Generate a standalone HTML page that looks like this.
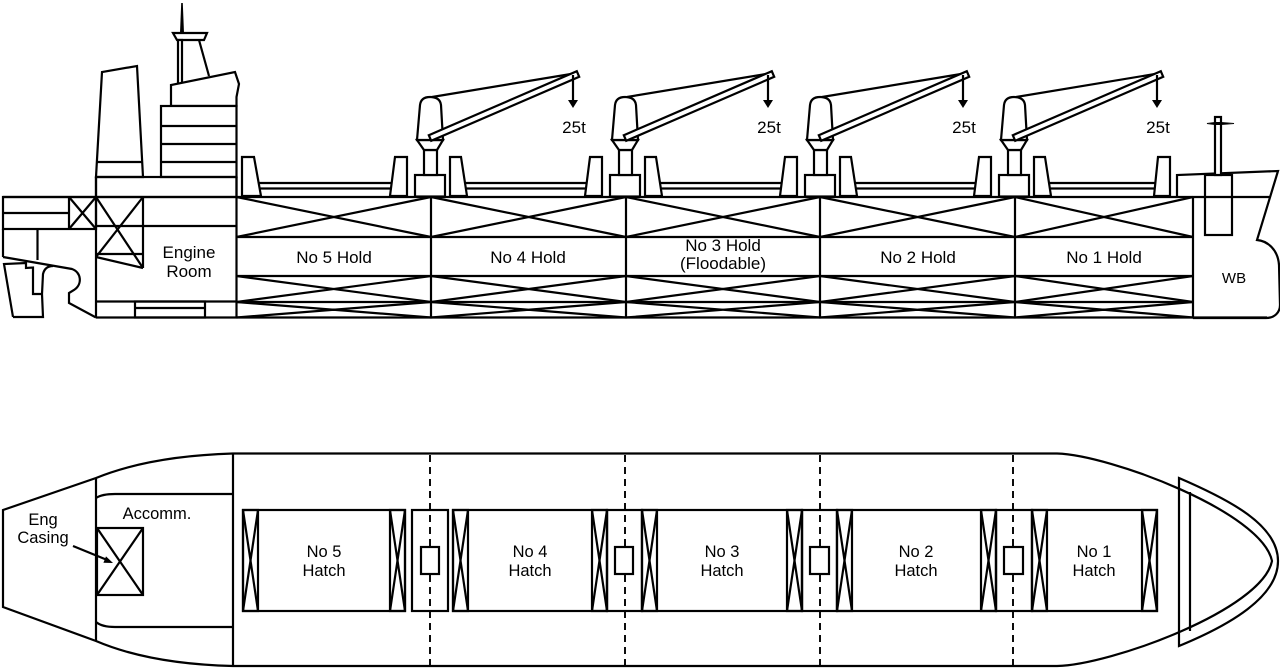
<!DOCTYPE html>
<html><head><meta charset="utf-8"><style>
html,body{margin:0;padding:0;background:#fff;}
svg{display:block;}
text{font-family:"Liberation Sans",Arial,sans-serif;fill:#000;stroke:none;}
</style></head><body>
<svg width="1280" height="668" viewBox="0 0 1280 668" xmlns="http://www.w3.org/2000/svg">
<defs>
<g id="crane">
  <polygon points="395,157 407,157 407,196 390,196" fill="#fff"/>
  <polygon points="450,157 461,157 467,196 450,196" fill="#fff"/>
  <rect x="415" y="175" width="30" height="21.5" fill="#fff"/>
  <rect x="424" y="150" width="13" height="25" fill="#fff"/>
  <polygon points="417,140 443,140 437,150 424,150" fill="#fff"/>
  <path d="M417,140 L420,105 Q421,97 430,97 Q440,97 441,105 L443,140 Z" fill="#fff"/>
  <line x1="432" y1="97" x2="577" y2="73"/>
  <polygon points="428.8,135.2 576.8,71.2 579.2,76.8 431.2,140.8" fill="#fff"/>
  <line x1="573" y1="75" x2="573" y2="101"/>
  <polygon points="568,100 578,100 573,108" fill="#000" stroke="none"/>
  <text x="574" y="133" font-size="17" text-anchor="middle">25t</text>
</g>
<g id="pnl">
  <rect x="0" y="510" width="15" height="101"/>
  <line x1="0" y1="510" x2="15" y2="611"/>
  <line x1="15" y1="510" x2="0" y2="611"/>
</g>
</defs>
<g fill="none" stroke="#000" stroke-width="2.2" stroke-linejoin="miter">
<!-- ============ PROFILE ============ -->
<polygon points="96,177 102,72 137,66 143,177" fill="#fff"/>
<line x1="97" y1="162" x2="142" y2="162"/>
<polygon points="180,33 181.2,3 182.8,3 184,33" fill="#000" stroke="none"/>
<polygon points="173,33 207,33 204,40 177,40" fill="#fff"/>
<rect x="178" y="40" width="4" height="44" fill="#fff"/>
<line x1="199" y1="40" x2="209" y2="76"/>
<polygon points="171,106 171,85 235,72 239,84 236.5,97 236.5,106" fill="#fff"/>
<rect x="161" y="106" width="75.5" height="71" fill="#fff"/>
<line x1="161" y1="126" x2="236.5" y2="126"/>
<line x1="161" y1="144" x2="236.5" y2="144"/>
<line x1="161" y1="162" x2="236.5" y2="162"/>
<rect x="96" y="177" width="140.5" height="20"/>
<line x1="3" y1="197" x2="1270" y2="197"/>
<line x1="96" y1="317.5" x2="1267" y2="317.5"/>
<line x1="96" y1="177" x2="96" y2="317.5"/>
<rect x="3" y="197" width="93" height="32"/>
<line x1="3" y1="213" x2="69" y2="213"/>
<line x1="69" y1="197" x2="69" y2="229"/>
<line x1="69" y1="197" x2="96" y2="229"/>
<line x1="96" y1="197" x2="69" y2="229"/>
<line x1="3" y1="229" x2="3" y2="257"/>
<line x1="37.5" y1="229" x2="37.5" y2="260"/>
<path d="M3,257 L72,269 C81,272 83,284 74,290 L69,293 L69,303 L96,317.5"/>
<path d="M13,317 L4,264 L26,263 L26,268 L33,267.5 L33,294 L42,294"/>
<path d="M13,317 L43,317 L42,294 L43,274 Q45,266 53,266"/>
<line x1="143" y1="197" x2="143" y2="268"/>
<line x1="96" y1="254" x2="143" y2="254"/>
<line x1="96" y1="257" x2="143" y2="268"/>
<line x1="96" y1="197" x2="143" y2="268"/>
<line x1="143" y1="197" x2="96" y2="257"/>
<line x1="96" y1="226" x2="236.5" y2="226"/>
<line x1="96" y1="301.5" x2="236.5" y2="301.5"/>
<rect x="135" y="301.5" width="70" height="16"/>
<line x1="135" y1="308" x2="205" y2="308"/>
<g>
<line x1="236.5" y1="237" x2="1193" y2="237"/>
<line x1="236.5" y1="276" x2="1193" y2="276"/>
<line x1="236.5" y1="302" x2="1193" y2="302"/>
<line x1="236.5" y1="177" x2="236.5" y2="317.5"/>
<line x1="431" y1="197" x2="431" y2="317.5"/>
<line x1="626" y1="197" x2="626" y2="317.5"/>
<line x1="820" y1="197" x2="820" y2="317.5"/>
<line x1="1015" y1="197" x2="1015" y2="317.5"/>
<line x1="1193" y1="197" x2="1193" y2="318"/>
<path d="M236.5,197 L431,237 M236.5,237 L431,197 M236.5,276 L431,302 M236.5,302 L431,276 M236.5,302 L431,317.5 M236.5,317.5 L431,302"/>
<path d="M431,197 L626,237 M431,237 L626,197 M431,276 L626,302 M431,302 L626,276 M431,302 L626,317.5 M431,317.5 L626,302"/>
<path d="M626,197 L820,237 M626,237 L820,197 M626,276 L820,302 M626,302 L820,276 M626,302 L820,317.5 M626,317.5 L820,302"/>
<path d="M820,197 L1015,237 M820,237 L1015,197 M820,276 L1015,302 M820,302 L1015,276 M820,302 L1015,317.5 M820,317.5 L1015,302"/>
<path d="M1015,197 L1193,237 M1015,237 L1193,197 M1015,276 L1193,302 M1015,302 L1193,276 M1015,302 L1193,317.5 M1015,317.5 L1193,302"/>
</g>
<path d="M250,183 L400,183 M250,188.5 L400,188.5 M455,183 L595,183 M455,188.5 L595,188.5 M650,183 L790,183 M650,188.5 L790,188.5 M845,183 L984,183 M845,188.5 L984,188.5 M1039,183 L1162,183 M1039,188.5 L1162,188.5"/>
<polygon points="242,157 254,157 261,196 242,196" fill="#fff"/>
<polygon points="1158,157 1170,157 1170,196 1154,196" fill="#fff"/>
<use href="#crane"/>
<use href="#crane" transform="translate(195,0)"/>
<use href="#crane" transform="translate(390,0)"/>
<use href="#crane" transform="translate(584,0)"/>
<path d="M1177,197 L1177,175 L1278,171 L1257,240 C1268,241 1278,250 1279,265 L1280,305 C1280,312 1275,318 1266,318 L1193,318"/>
<rect x="1205" y="175" width="27" height="60"/>
<rect x="1215" y="117" width="6" height="58" fill="#fff"/>
<polygon points="1207,123.5 1215,122.5 1221,122.5 1234,123.5 1221,124.5 1215,124.5" fill="#000" stroke-width="1"/>
<!-- ============ PLAN ============ -->
<path d="M3,510 L96,478 Q150,456 233,453.5 L1057,453.5 C1110,455 1262,512 1272,561 C1262,610 1110,665 1057,666 L233,666 Q150,664 96,641 L3,607 Z"/>
<line x1="96" y1="478" x2="96" y2="641"/>
<line x1="233" y1="453.5" x2="233" y2="666"/>
<path d="M96,498 Q102,494 115,494 L233,494"/>
<path d="M96,622 Q102,627 115,627 L233,627"/>
<rect x="97" y="528" width="46" height="67"/>
<line x1="97" y1="528" x2="143" y2="595"/>
<line x1="143" y1="528" x2="97" y2="595"/>
<line x1="73" y1="546" x2="106" y2="559.5"/>
<polygon points="113,563 103.4,562.8 106,556.4" fill="#000" stroke="none"/>
<g stroke-width="1.9" stroke-dasharray="7 5">
<line x1="430" y1="455" x2="430" y2="666"/>
<line x1="625" y1="455" x2="625" y2="666"/>
<line x1="820" y1="455" x2="820" y2="666"/>
<line x1="1013" y1="455" x2="1013" y2="666"/>
</g>
<rect x="243" y="510" width="162" height="101" fill="#fff"/>
<rect x="412" y="510" width="36" height="101"/>
<rect x="453" y="510" width="154" height="101" fill="#fff"/>
<rect x="607" y="510" width="35" height="101"/>
<rect x="642" y="510" width="160" height="101" fill="#fff"/>
<rect x="802" y="510" width="35" height="101"/>
<rect x="837" y="510" width="159" height="101" fill="#fff"/>
<rect x="996" y="510" width="36" height="101"/>
<rect x="1032" y="510" width="125" height="101" fill="#fff"/>
<rect x="421" y="547" width="18" height="27" fill="#fff"/>
<rect x="615" y="547" width="18" height="27" fill="#fff"/>
<rect x="810" y="547" width="19" height="27" fill="#fff"/>
<rect x="1004" y="547" width="19" height="27" fill="#fff"/>
<use href="#pnl" transform="translate(243,0)"/>
<use href="#pnl" transform="translate(390,0)"/>
<use href="#pnl" transform="translate(453,0)"/>
<use href="#pnl" transform="translate(592,0)"/>
<use href="#pnl" transform="translate(642,0)"/>
<use href="#pnl" transform="translate(787,0)"/>
<use href="#pnl" transform="translate(837,0)"/>
<use href="#pnl" transform="translate(981,0)"/>
<use href="#pnl" transform="translate(1032,0)"/>
<use href="#pnl" transform="translate(1142,0)"/>
<!-- forecastle plan -->
<path d="M1179,478 C1230,500 1278,525 1278,561 C1278,597 1230,625 1179,646 Z"/>
<line x1="1190" y1="492" x2="1190" y2="631"/>
</g>
<g font-size="17" text-anchor="middle">
<text x="189" y="258">Engine</text>
<text x="189" y="277">Room</text>
<text x="334" y="263">No 5 Hold</text>
<text x="528" y="263">No 4 Hold</text>
<text x="723" y="251">No 3 Hold</text>
<text x="723" y="269">(Floodable)</text>
<text x="918" y="263">No 2 Hold</text>
<text x="1104" y="263">No 1 Hold</text>
<text x="1234" y="283" font-size="15">WB</text>
</g>
<g font-size="16.5" text-anchor="middle">
<text x="43" y="525">Eng</text>
<text x="43" y="543">Casing</text>
<text x="157" y="519">Accomm.</text>
<text x="324" y="557">No 5</text>
<text x="324" y="576">Hatch</text>
<text x="530" y="557">No 4</text>
<text x="530" y="576">Hatch</text>
<text x="722" y="557">No 3</text>
<text x="722" y="576">Hatch</text>
<text x="916" y="557">No 2</text>
<text x="916" y="576">Hatch</text>
<text x="1094" y="557">No 1</text>
<text x="1094" y="576">Hatch</text>
</g>
</svg>
</body></html>
